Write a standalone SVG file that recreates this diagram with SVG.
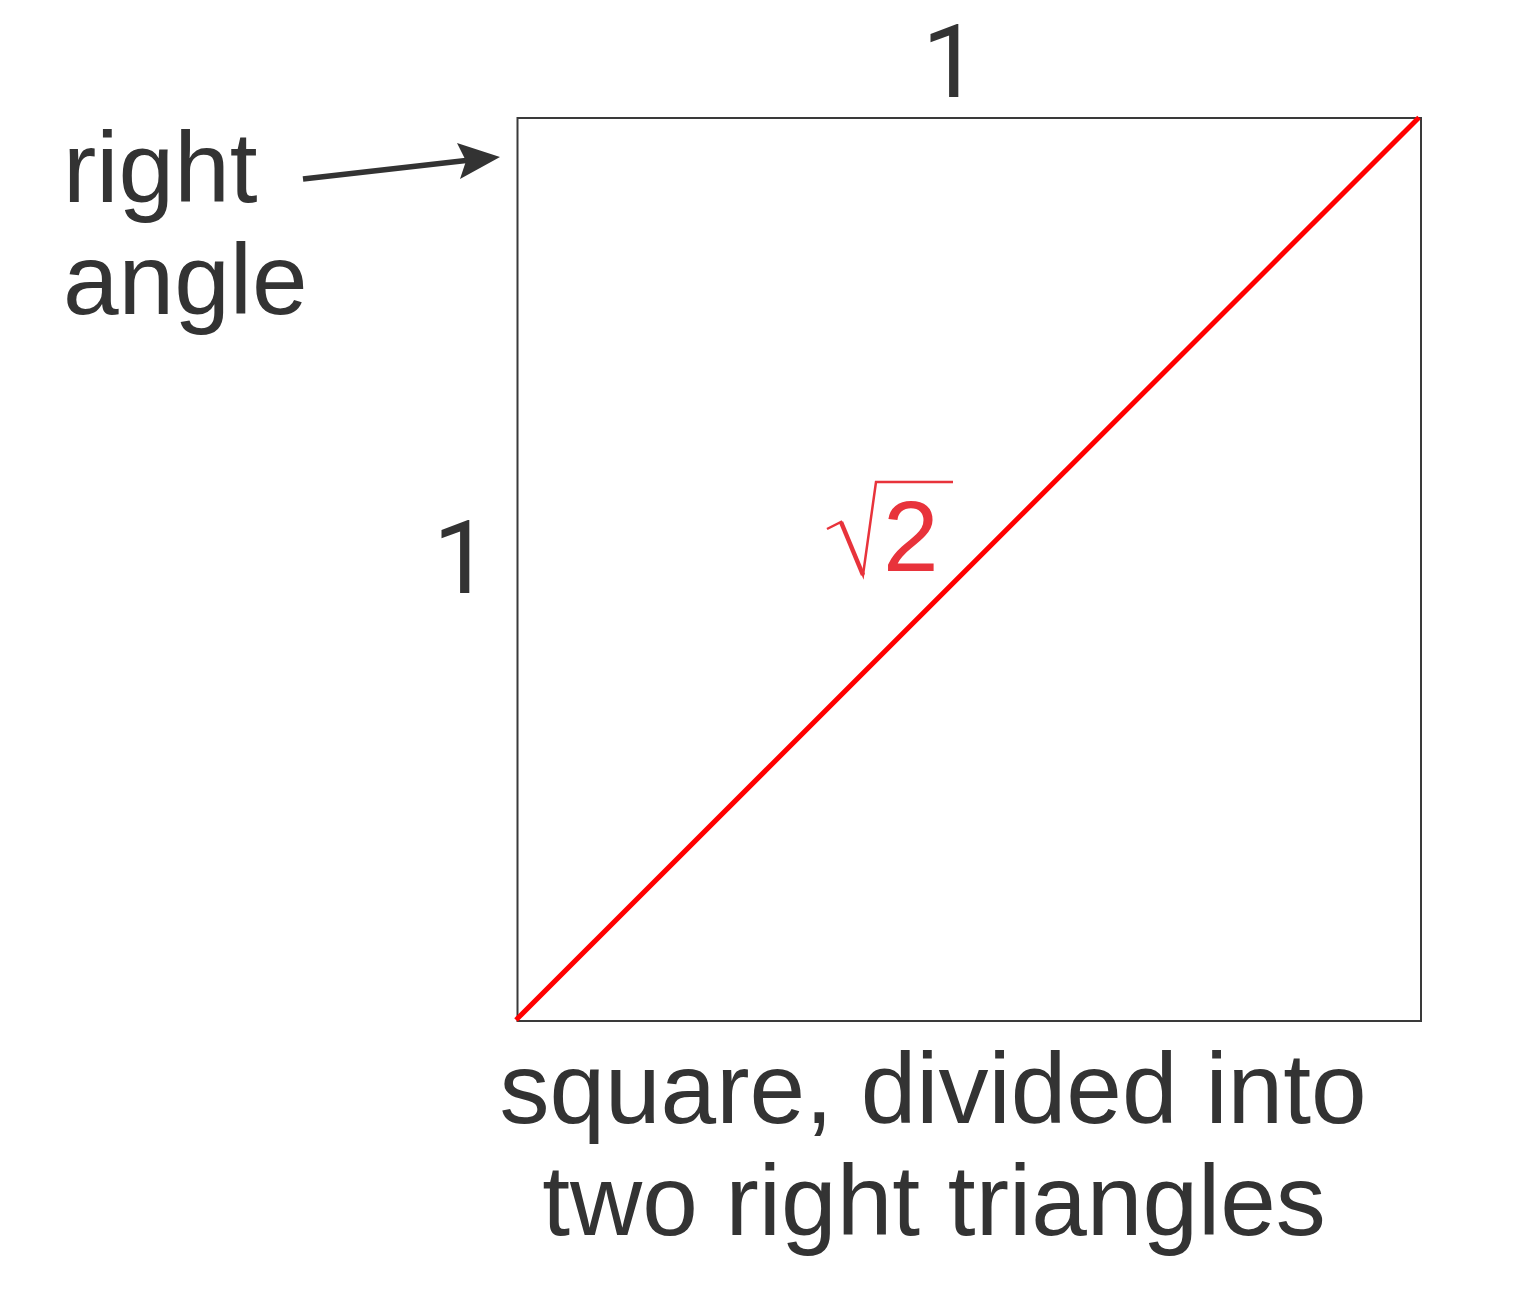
<svg xmlns="http://www.w3.org/2000/svg" width="1535" height="1295" viewBox="0 0 1535 1295">
<style>
.t{font-family:"Liberation Sans",Arial,sans-serif;font-size:100px;fill:#333333}
.one{font-family:Roboto,"Liberation Sans",Arial,sans-serif;font-size:102px;fill:#333333}
</style>
<rect width="1535" height="1295" fill="#ffffff"/>
<g id="square">
<rect x="517.5" y="118" width="903.5" height="903" fill="none" stroke="#3a3a3a" stroke-width="2"/>
</g>
<g id="diagonal">
<line x1="516" y1="1020" x2="1419" y2="117.5" stroke="#ff0000" stroke-width="5"/>
</g>
<g id="labels">
<text class="one" x="922" y="97">1</text>
<text class="one" x="433" y="593">1</text>
<text class="t" x="63" y="202">right</text>
<text class="t" x="63" y="314">angle</text>
<text class="t" x="933" y="1123" text-anchor="middle">square, divided into</text>
<text class="t" x="934" y="1235" text-anchor="middle">two right triangles</text>
</g>
<g id="sqrt2">
<polyline points="827,529 841,522 863,575 876,482 953,482" fill="none" stroke="#e8333b" stroke-width="2.5" stroke-linejoin="miter"/>
<line x1="841" y1="522" x2="863" y2="575" stroke="#e8333b" stroke-width="4.5"/>
<text class="t" x="883" y="571" style="fill:#e8333b">2</text>
</g>
<g id="connectors">
<line x1="303" y1="179" x2="466" y2="160.5" stroke="#333333" stroke-width="5.5"/>
<path d="M500,157 L457,143 L466,161 L460,179 Z" fill="#333333"/>
</g>
</svg>
